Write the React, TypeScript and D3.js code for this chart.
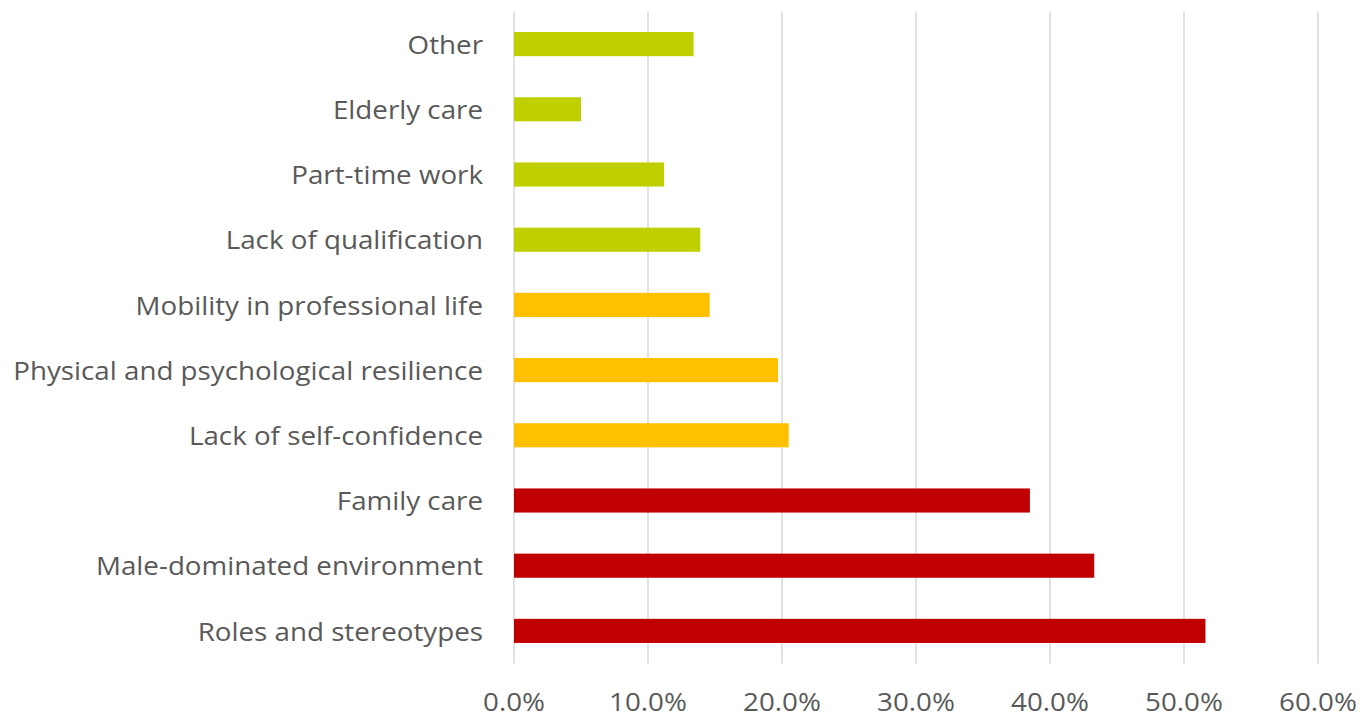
import { useEffect, useRef } from "react"
import * as d3 from "d3"

const categories = [
  "Other",
  "Elderly care",
  "Part-time work",
  "Lack of qualification",
  "Mobility in professional life",
  "Physical and psychological resilience",
  "Lack of self-confidence",
  "Family care",
  "Male-dominated environment",
  "Roles and stereotypes",
]
const values = [13.4, 5.0, 11.2, 13.9, 14.6, 19.7, 20.5, 38.5, 43.3, 51.6]
const groups = ["low", "low", "low", "low", "mid", "mid", "mid", "high", "high", "high"]
const xTicks = [0, 10, 20, 30, 40, 50, 60]

const colors: Record<string, string> = { high: "#C00000", mid: "#FFC000", low: "#C0CF00" }

const width = 1362
const height = 718
const margin = { top: 11.5, right: 44, bottom: 54.5, left: 514 }
// the source text is wider than any installed face, so stretch it a little
const stretch = 1.11

const App = () => {
  const ref = useRef<SVGSVGElement>(null)

  useEffect(() => {
    const svg = d3.select(ref.current)
    svg.selectAll("*").remove()

    const x = d3.scaleLinear().domain([0, 60]).range([margin.left, width - margin.right])
    const y = d3
      .scaleBand<string>()
      .domain(categories)
      .range([margin.top, height - margin.bottom])
      .paddingInner(0.63)
      .paddingOuter(0.315)

    // gridlines
    svg.append("g")
      .selectAll("line")
      .data(xTicks)
      .join("line")
      .attr("x1", d => x(d))
      .attr("x2", d => x(d))
      .attr("y1", margin.top)
      .attr("y2", height - margin.bottom)
      .attr("stroke", "#D9D9D9")
      .attr("stroke-width", 1.5)

    svg.append("g")
      .selectAll("rect")
      .data(categories)
      .join("rect")
      .attr("x", x(0))
      .attr("y", d => y(d)!)
      .attr("width", (d, i) => x(values[i]) - x(0))
      .attr("height", y.bandwidth())
      .attr("fill", (d, i) => colors[groups[i]])

    const font = "'Open Sans', sans-serif"

    svg.append("g")
      .selectAll("text")
      .data(categories)
      .join("text")
      .attr("transform", d => `translate(${margin.left - 31},${y(d)! + y.bandwidth() / 2 + 1}) scale(${stretch},1)`)
      .attr("dy", "0.35em")
      .attr("text-anchor", "end")
      .attr("font-family", font)
      .attr("font-size", 25)
      .attr("fill", "#595959")
      .text(d => d)

    svg.append("g")
      .selectAll("text")
      .data(xTicks)
      .join("text")
      .attr("transform", d => `translate(${x(d)},702) scale(${stretch},1)`)
      .attr("dy", "0.35em")
      .attr("text-anchor", "middle")
      .attr("font-family", font)
      .attr("font-size", 25)
      .attr("fill", "#595959")
      .text(d => d3.format(".1f")(d) + "%")
  }, [])

  return (
    <svg
      ref={ref}
      width={width}
      height={height}
      style={{ position: "absolute", left: 0, top: 0, background: "#fff" }}
    />
  )
}

export default App
